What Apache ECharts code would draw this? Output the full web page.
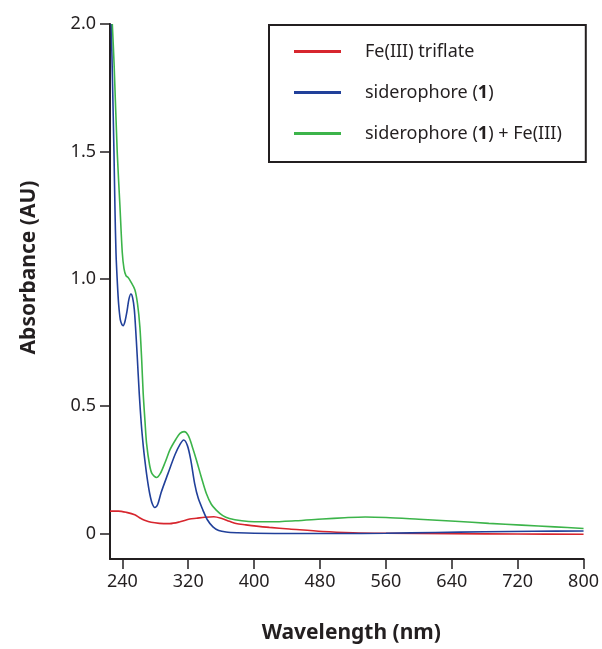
<!DOCTYPE html>
<html>
<head>
<meta charset="utf-8">
<script src="https://cdn.jsdelivr.net/npm/echarts@6/dist/echarts.min.js"></script>
<style>
html, body { margin: 0; padding: 0; background: #fff; }
#main { width: 602px; height: 649px; }
</style>
</head>
<body>
<div id="main"></div>
<script>
// tick positions
var xTicks = [240, 320, 400, 480, 560, 640, 720, 800];
var yTicks = [0, 0.5, 1, 1.5, 2];

// Fe(III) triflate
var redX = [225, 235, 245, 255, 262, 267, 275, 285, 297.6, 310, 321.8, 330, 340, 351, 360, 370, 378, 390, 400, 418.5, 442.7, 483, 520, 560, 640, 720, 800];
var redY = [0.088, 0.088, 0.083, 0.074, 0.06, 0.052, 0.044, 0.04, 0.039, 0.046, 0.057, 0.06, 0.064, 0.066, 0.06, 0.048, 0.039, 0.034, 0.03, 0.024, 0.018, 0.008, 0.003, 0.001, -0.001, -0.002, -0.003];

// siderophore (1)
var blueX = [226.5, 228, 229.8, 231, 232.3, 234, 235.5, 237.5, 239.5, 241, 243, 245.5, 248, 250.4, 252.5, 254.5, 256, 258, 260.5, 263, 265.5, 267.3, 270, 273, 276, 279.4, 283, 287, 295.5, 304, 310, 314.5, 319, 323, 327.8, 332, 337.8, 343, 350, 357, 366, 380, 400, 450, 500, 560, 620, 680, 740, 800];
var blueY = [2.0, 1.78, 1.5, 1.28, 1.1, 0.98, 0.9, 0.84, 0.82, 0.816, 0.83, 0.87, 0.92, 0.94, 0.925, 0.88, 0.81, 0.7, 0.55, 0.43, 0.34, 0.288, 0.22, 0.16, 0.12, 0.102, 0.115, 0.16, 0.236, 0.31, 0.35, 0.367, 0.345, 0.29, 0.196, 0.14, 0.092, 0.055, 0.026, 0.012, 0.006, 0.003, 0.001, 0, 0, 0.001, 0.004, 0.007, 0.009, 0.01];

// siderophore (1) + Fe(III)
var greenX = [227.8, 230, 233.8, 237, 239.9, 242, 244.4, 247, 250, 255.2, 258.5, 261.3, 263.5, 265.3, 267.5, 269.4, 273, 276, 281.5, 286, 292, 298, 305, 310, 315, 320, 325, 330, 336, 342, 348, 354, 362, 370, 385, 400, 420, 450, 483, 510, 535, 560, 600, 644, 685, 725, 765, 800];
var greenY = [2.0, 1.84, 1.495, 1.29, 1.103, 1.04, 1.012, 1.005, 0.99, 0.957, 0.9, 0.81, 0.68, 0.55, 0.44, 0.354, 0.27, 0.235, 0.22, 0.235, 0.28, 0.33, 0.37, 0.393, 0.4, 0.385, 0.34, 0.288, 0.22, 0.157, 0.115, 0.092, 0.07, 0.059, 0.05, 0.046, 0.046, 0.05, 0.057, 0.062, 0.065, 0.063, 0.056, 0.048, 0.04, 0.033, 0.026, 0.02];

var names = ['Fe(III) triflate', 'siderophore (1)', 'siderophore (1) + Fe(III)'];
var colors = ['#d7262e', '#21409a', '#3cb44a'];

function pairs(xs, ys) {
    var res = [];
    for (var i = 0; i < xs.length; i++) {
        res.push([xs[i], ys[i]]);
    }
    return res;
}

var chart = echarts.init(document.getElementById('main'));
var font = 'Noto Sans';
var ink = '#231f20';

var series = [[redX, redY], [blueX, blueY], [greenX, greenY]].map(function (d, i) {
    return {
        name: names[i],
        type: 'line',
        symbol: 'none',
        smooth: 0.3,
        lineStyle: { width: 1.6, color: colors[i] },
        itemStyle: { color: colors[i] },
        data: pairs(d[0], d[1])
    };
});

var option = {
    animation: false,
    grid: { left: 110, right: 16, top: 24, bottom: 89 },
    legend: {
        orient: 'vertical',
        left: 269,
        top: 25,
        padding: [16, 24, 18, 25],
        itemGap: 20,
        itemWidth: 47,
        itemHeight: 3,
        icon: 'rect',
        borderColor: ink,
        borderWidth: 2,
        formatter: function (n) { return n.replace('(1)', '({b|1})'); },
        textStyle: {
            fontFamily: font, fontSize: 18, color: ink, lineHeight: 21,
            padding: [0, 0, 0, 19],
            rich: { b: { fontFamily: font, fontSize: 18, fontWeight: 'bold', color: ink, lineHeight: 21 } }
        },
        data: names
    },
    xAxis: {
        type: 'value',
        min: 225,
        max: 800,
        name: 'Wavelength (nm)',
        nameLocation: 'middle',
        nameGap: 64,
        nameTextStyle: { fontFamily: font, fontSize: 21, fontWeight: 'bold', color: ink, padding: [0, 0, 0, 9] },
        axisLine: { onZero: false, lineStyle: { color: ink, width: 2 } },
        axisTick: { customValues: xTicks, length: 10, lineStyle: { color: ink, width: 1.5 } },
        axisLabel: { customValues: xTicks, fontFamily: font, fontSize: 18, color: ink, margin: 14 },
        splitLine: { show: false }
    },
    yAxis: {
        type: 'value',
        min: -0.1,
        max: 2.0,
        name: 'Absorbance (AU)',
        nameLocation: 'middle',
        nameGap: 70,
        nameTextStyle: { fontFamily: font, fontSize: 21, fontWeight: 'bold', color: ink, padding: [0, 0, 0, 48] },
        axisLine: { onZero: false, lineStyle: { color: ink, width: 2 } },
        axisTick: { customValues: yTicks, length: 10, lineStyle: { color: ink, width: 1.5 } },
        axisLabel: {
            customValues: yTicks, fontFamily: font, fontSize: 18, color: ink, margin: 14,
            formatter: function (v) { return v === 0 ? '0' : v.toFixed(1); }
        },
        splitLine: { show: false }
    },
    series: series
};

chart.setOption(option);
</script>
</body>
</html>
